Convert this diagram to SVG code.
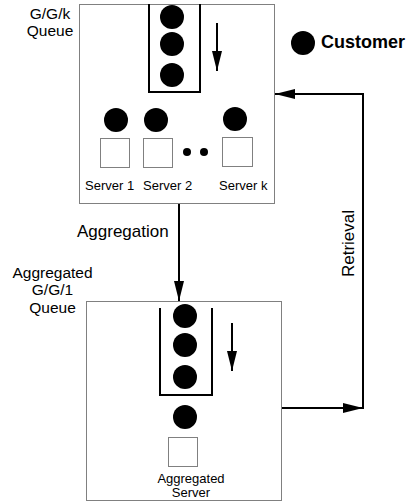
<svg xmlns="http://www.w3.org/2000/svg" width="407" height="504" viewBox="0 0 407 504">
<defs>
<style>
.box{fill:#fff;stroke:#808080;stroke-width:1}
.q{fill:none;stroke:#000;stroke-width:2}
.c{fill:#000}
.sv{fill:#fff;stroke:#808080;stroke-width:1}
.ln{fill:none;stroke:#000;stroke-width:2}
text{font-family:"Liberation Sans",Arial,sans-serif;fill:#000}
.srv{font-size:13px}
.lbl{font-size:15.5px;text-anchor:middle}
</style>
<marker id="ahL" viewBox="0 0 20 10" refX="20" refY="5" markerWidth="20" markerHeight="10" markerUnits="userSpaceOnUse" orient="auto">
<path d="M0,0 L20,5 L0,10 z" fill="#000"/>
</marker>
</defs>
<rect width="407" height="504" fill="#fff"/>
<g id="ggk-queue">
<rect class="box" x="79.5" y="4.5" width="195" height="199"/>
<path class="q" d="M149,4 V92 H200 V4"/>
<circle class="c" cx="172" cy="17" r="12"/>
<circle class="c" cx="172" cy="44" r="12"/>
<circle class="c" cx="172" cy="75" r="12"/>
<line class="ln" x1="217" y1="23" x2="217" y2="71" marker-end="url(#ahL)"/>
<circle class="c" cx="116" cy="120" r="12"/>
<circle class="c" cx="156" cy="120" r="12"/>
<circle class="c" cx="235" cy="119" r="12"/>
<rect class="sv" x="100.5" y="138.5" width="29" height="29"/>
<rect class="sv" x="143.5" y="138.5" width="29" height="29"/>
<rect class="sv" x="222.5" y="137.5" width="30" height="29"/>
<circle class="c" cx="187" cy="152" r="4"/>
<circle class="c" cx="204" cy="152" r="4"/>
<text class="srv" x="85" y="190">Server 1</text>
<text class="srv" x="143" y="190">Server 2</text>
<text class="srv" x="219" y="190">Server k</text>
</g>
<g id="ggk-label">
<text class="lbl" x="50" y="19">G/G/k</text>
<text class="lbl" x="50" y="36">Queue</text>
</g>
<g id="legend">
<circle class="c" cx="303" cy="43" r="12"/>
<text x="321" y="48" font-size="18" font-weight="bold">Customer</text>
</g>
<g id="gg1-queue">
<rect class="box" x="86.5" y="301.5" width="195" height="199"/>
<path class="q" d="M160,308 V395 H212 V308"/>
<circle class="c" cx="185" cy="316" r="12"/>
<circle class="c" cx="185" cy="345" r="12"/>
<circle class="c" cx="185" cy="377" r="12"/>
<line class="ln" x1="232" y1="323" x2="232" y2="371" marker-end="url(#ahL)"/>
<circle class="c" cx="185" cy="417" r="12"/>
<rect class="sv" x="168.5" y="437.5" width="29" height="29"/>
<text x="191" y="483" font-size="13" text-anchor="middle">Aggregated</text>
<text x="191" y="497" font-size="13" text-anchor="middle">Server</text>
</g>
<g id="gg1-label">
<text class="lbl" x="52.5" y="278">Aggregated</text>
<text class="lbl" x="52.5" y="295">G/G/1</text>
<text class="lbl" x="52.5" y="313">Queue</text>
</g>
<g id="connectors">
<line class="ln" x1="179" y1="204" x2="179" y2="301" marker-end="url(#ahL)"/>
<text x="77" y="237" font-size="17">Aggregation</text>
<line class="ln" x1="282" y1="408" x2="363" y2="408" marker-end="url(#ahL)"/>
<line class="ln" x1="363" y1="409" x2="363" y2="93"/>
<line class="ln" x1="364" y1="94" x2="275" y2="94" marker-end="url(#ahL)"/>
<text x="0" y="0" font-size="17" text-anchor="middle" transform="translate(354,243.5) rotate(-90)">Retrieval</text>
</g>
</svg>
